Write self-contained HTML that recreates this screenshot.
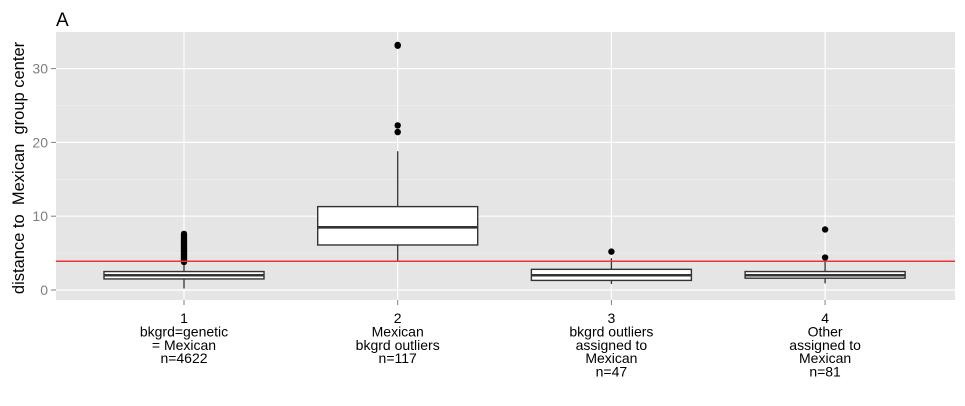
<!DOCTYPE html>
<html><head><meta charset="utf-8"><style>
body{margin:0;background:#fff;}
svg text{font-family:"Liberation Sans",sans-serif;}
</style></head><body>
<svg id="chart" width="965" height="401"></svg>
<script>
const categories=["1","2","3","4"];
const catLabels=[["1","bkgrd=genetic","= Mexican","n=4622"],["2","Mexican","bkgrd outliers","n=117"],["3","bkgrd outliers","assigned to","Mexican","n=47"],["4","Other","assigned to","Mexican","n=81"]];
const q1=[1.5,6.1,1.3,1.6];
const med=[2.0,8.5,2.0,2.0];
const q3=[2.5,11.3,2.8,2.5];
const whLo=[0.2,3.9,0.8,0.9];
const whHi=[3.7,18.8,4.3,3.8];
const outliers=[[3.8,4.0,4.2,4.4,4.6,4.8,5.0,5.2,5.4,5.6,5.8,6.0,6.2,6.4,6.6,6.8,7.0,7.2,7.4,7.6],[21.4,22.3,33.1,33.2],[5.2],[4.4,8.2]];
const yTicks=[0,10,20,30];
const refLine=3.9;
const NS="http://www.w3.org/2000/svg";
const svg=document.getElementById('chart');
const L=56,R=955,T=32,B=300;
const y=v=>290-v*7.38;
const x=i=>184+i*213.7;
const bw=160;
function mk(t,a,p){const e=document.createElementNS(NS,t);for(const k in a)e.setAttribute(k,a[k]);(p||svg).appendChild(e);return e;}
let e;
e=mk('rect',{x:L,y:T,width:R-L,height:B-T,fill:'#e5e5e5'});


for(let v=-5;v<=35;v+=5){if(y(v)>B||y(v)<T)continue;const major=v%10===0;
e=mk('line',{x1:L,x2:R,y1:y(v),y2:y(v),stroke:major?'#fff':'#f2f2f2','stroke-width':major?1.2:0.6});

}
categories.forEach((c,i)=>{e=mk('line',{x1:x(i),x2:x(i),y1:T,y2:B,stroke:'#fff','stroke-width':1.2});

});
yTicks.forEach(v=>{
e=mk('line',{x1:51,x2:56,y1:y(v),y2:y(v),stroke:'#7f7f7f'});


e=mk('text',{x:48,y:y(v)+5,'text-anchor':'end','font-size':14,fill:'#7f7f7f'});e.textContent=v;

});
categories.forEach((c,i)=>{
const g=mk('g',{});


mk('line',{x1:x(i),x2:x(i),y1:y(whLo[i]),y2:y(q1[i]),stroke:'#333','stroke-width':1.3},g);
mk('line',{x1:x(i),x2:x(i),y1:y(whHi[i]),y2:y(q3[i]),stroke:'#333','stroke-width':1.3},g);
mk('rect',{x:x(i)-bw/2,y:y(q3[i]),width:bw,height:y(q1[i])-y(q3[i]),fill:'#fff',stroke:'#333','stroke-width':1.4},g);
mk('line',{x1:x(i)-bw/2,x2:x(i)+bw/2,y1:y(med[i]),y2:y(med[i]),stroke:'#333','stroke-width':2.6},g);
outliers[i].forEach(o=>{const d=mk('circle',{cx:x(i),cy:y(o),r:3.2,fill:'#000'},g);

});
e=mk('line',{x1:x(i),x2:x(i),y1:B,y2:B+5,stroke:'#7f7f7f'});


const t=mk('text',{x:x(i),y:323,'text-anchor':'middle','font-size':14,fill:'#000'});


catLabels[i].forEach((s,j)=>{const ts=mk('tspan',{x:x(i),dy:j?13.4:0},t);ts.textContent=s;});
});
e=mk('line',{x1:L,x2:R,y1:y(refLine),y2:y(refLine),stroke:'#ee3333','stroke-width':1.5});


e=mk('text',{x:56,y:26,'font-size':19,fill:'#000'});e.textContent='A';


e=mk('text',{x:0,y:0,'font-size':16.5,fill:'#000','text-anchor':'middle',transform:'translate(24,168) rotate(-90)'});e.textContent='distance to\u00a0 Mexican\u00a0 group center';


</script>
</body></html>
